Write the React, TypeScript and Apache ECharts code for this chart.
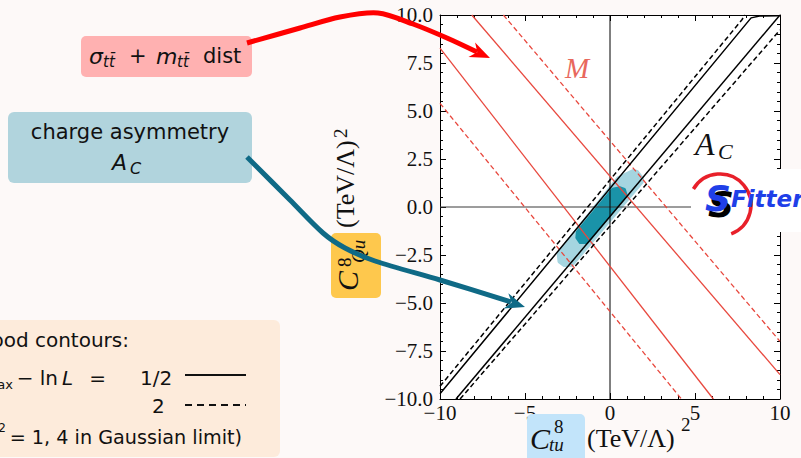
import React, { useEffect, useRef } from "react";
import * as echarts from "echarts";

// ---- data ----
const xTickValues = [-10, -5, 0, 5, 10];
const yTickValues = [-10, -7.5, -5, -2.5, 0, 2.5, 5, 7.5, 10];

// red (M) constraint lines
const redSolidA = [[-10, 8.27], [6.08, -10]];
const redSolidB = [[-8.13, 10], [10, -8.73]];
const redDashA = [[-10, 5.4], [4.2, -10]];
const redDashB = [[-6.27, 10], [10, -7.0]];

// black (A_C) contours
const blackSolidL = [[-10, -9.73], [8.3, 9.85], [8.8, 9.95], [9.9, 9.96]];
const blackSolidR = [[-9.06, -10], [10, 10]];
const blackDashL = [[-10, -9.34], [7.75, 9.74], [7.94, 10]];
const blackDashR = [[-8.82, -10], [10, 9.22]];

// combined allowed regions
const regionOuter = [
  [-3.05, -2.4], [-3.0, -2.85], [-2.7, -3.05], [-2.25, -3.05],
  [1.9, 1.3], [1.9, 1.5], [1.6, 1.85], [1.35, 1.9], [0.45, 1.5],
];
const regionInner = [
  [-1.92, -1.3], [-1.95, -1.6], [-1.75, -1.85], [-1.35, -1.85],
  [0.95, 0.6], [0.85, 0.92], [0.6, 1.0], [0.15, 0.92],
];

const zeroH = [[-10, 0], [10, 0]];
const zeroV = [[0, -10], [0, 10]];

const RED = "#e8483e";
const SERIF = "'Liberation Serif', 'DejaVu Serif', serif";
const SANS = "'DejaVu Sans', sans-serif";

const minus = (s: string) => s.replace("-", "\u2212");

function lineSeries(data: number[][], color: string, type: any, width: number, z: number) {
  return {
    type: "line",
    data,
    showSymbol: false,
    symbol: "none",
    silent: true,
    z,
    lineStyle: { color, type, width },
  };
}

function polySeries(pts: number[][], color: string, z: number) {
  return {
    type: "custom",
    coordinateSystem: "cartesian2d",
    data: [[0, 0]],
    silent: true,
    z,
    renderItem: (_p: any, api: any) => ({
      type: "polygon",
      shape: { points: pts.map((p) => api.coord(p)) },
      style: { fill: color, stroke: color, lineWidth: 3, lineJoin: "round" },
    }),
  };
}

function txt(x: number, y: number, text: string, size: number, opts: any = {}) {
  const { family = SANS, italic = false, color = "#111", align = "left", z = 60, weight = "normal" } = opts;
  return {
    type: "text",
    x,
    y,
    z,
    style: {
      text,
      fill: color,
      font: `${italic ? "italic " : ""}${weight} ${size}px ${family}`,
      align,
      verticalAlign: "middle",
    },
  };
}

export default function App() {
  const ref = useRef<HTMLDivElement>(null);
  useEffect(() => {
    if (!ref.current) return;
    const chart = echarts.init(ref.current, null, { renderer: "svg" });
    const axisCommon = {
      type: "value",
      min: -10,
      max: 10,
      axisLine: { show: true, onZero: false, lineStyle: { color: "#000", width: 1 } },
      axisTick: { show: true, inside: true, length: 6, lineStyle: { color: "#000" } },
      minorTick: { show: true, splitNumber: 5, length: 3, lineStyle: { color: "#000" } },
      splitLine: { show: false },
    };
    const option: any = {
      animation: false,
      backgroundColor: "#fdf9f8",
      grid: { left: 440, top: 15, width: 340, height: 384, show: true, backgroundColor: "#ffffff", borderWidth: 0 },
      xAxis: [
        {
          ...axisCommon,
          position: "bottom",
          interval: 5,
          axisLabel: {
            margin: 5,
            color: "#111",
            fontFamily: SERIF,
            fontSize: 21,
            lineHeight: 18,
            formatter: (v: number) => (xTickValues.includes(v) ? minus(String(v)) : ""),
          },
        },
        { ...axisCommon, position: "top", interval: 5, axisLabel: { show: false } },
      ],
      yAxis: [
        {
          ...axisCommon,
          position: "left",
          interval: 2.5,
          axisLabel: {
            margin: 7,
            color: "#111",
            fontFamily: SERIF,
            fontSize: 21,
            formatter: (v: number) => (yTickValues.includes(v) ? minus(v.toFixed(1)) : ""),
          },
        },
        { ...axisCommon, position: "right", interval: 2.5, axisLabel: { show: false } },
      ],
      series: [
        polySeries(regionOuter, "#a5d5e0", 1),
        polySeries(regionInner, "#1a93a8", 2),
        lineSeries(zeroH, "#3a3a3a", "solid", 1, 3),
        lineSeries(zeroV, "#000000", "solid", 1, 3),
        lineSeries(redSolidA, RED, "solid", 1.3, 4),
        lineSeries(redSolidB, RED, "solid", 1.3, 4),
        lineSeries(redDashA, RED, [5, 3], 1.3, 4),
        lineSeries(redDashB, RED, [5, 3], 1.3, 4),
        lineSeries(blackSolidL, "#000", "solid", 1.5, 5),
        lineSeries(blackSolidR, "#000", "solid", 1.5, 5),
        lineSeries(blackDashL, "#000", [5, 3], 1.5, 5),
        lineSeries(blackDashR, "#000", [5, 3], 1.5, 5),
      ],
      graphic: [
        // in-plot labels
        txt(577, 68, "M", 29, { family: SERIF, italic: true, color: "#e8685d", align: "center" }),
        txt(695, 144, "A", 32, { family: SERIF, italic: true, color: "#111" }),
        txt(718, 151, "C", 22, { family: SERIF, italic: true, color: "#111" }),

        // SFitter logo
        { type: "rect", z: 100, shape: { x: 691, y: 169, width: 110, height: 63 }, style: { fill: "#ffffff" } },
        {
          type: "arc",
          z: 101,
          shape: { cx: 720, cy: 205, r: 31, startAngle: 1.2, endAngle: -2.6, clockwise: false },
          style: { stroke: "#e8202a", lineWidth: 3.5, fill: "none" },
        },
        txt(708, 204, "S", 36, { italic: true, weight: "bold", color: "#000", z: 102 }),
        txt(705, 198, "S", 36, { italic: true, weight: "bold", color: "#1f3fe8", z: 103 }),
        txt(731, 199, "Fitter", 23, { italic: true, weight: "bold", color: "#1f3fe8", z: 103 }),

        // x axis label
        { type: "rect", z: 50, shape: { x: 527, y: 414, width: 58, height: 50, r: 5 }, style: { fill: "#c2e4fa" } },
        txt(530, 438, "C", 30, { family: SERIF, italic: true, color: "#111" }),
        txt(554, 426, "8", 19, { family: SERIF, color: "#111" }),
        txt(549, 444, "tu", 19, { family: SERIF, italic: true, color: "#111" }),
        txt(587, 438, "(TeV/\u039b)", 26, { family: SERIF, color: "#111" }),
        txt(681, 424, "2", 19, { family: SERIF, color: "#111" }),

        // y axis label (rotated)
        { type: "rect", z: 50, shape: { x: 331, y: 233, width: 50, height: 65, r: 5 }, style: { fill: "#fec84d" } },
        {
          type: "group",
          x: 357.7,
          y: 212,
          rotation: Math.PI / 2,
          z: 60,
          children: [
            txt(-79, -10, "C", 30, { family: SERIF, italic: true, color: "#111" }),
            txt(-55, -13, "8", 19, { family: SERIF, color: "#111" }),
            txt(-51, 1, "Qu", 19, { family: SERIF, italic: true, color: "#111" }),
            txt(-16, -12, "(TeV/\u039b)", 26, { family: SERIF, color: "#111" }),
            txt(74, -17, "2", 19, { family: SERIF, color: "#111" }),
          ],
        },

        // pink box
        { type: "rect", z: 50, shape: { x: 81, y: 36, width: 171, height: 41, r: 5 }, style: { fill: "#ffb1b1" } },
        txt(89, 56, "\u03c3", 22, { italic: true }),
        txt(103, 62, "tt\u0304", 15, { italic: true }),
        txt(129, 56, "+", 21, {}),
        txt(156, 56, "m", 22, { italic: true }),
        txt(177, 62, "tt\u0304", 15, { italic: true }),
        txt(203, 55.7, "dist", 21, {}),

        // blue box
        { type: "rect", z: 50, shape: { x: 8, y: 112, width: 244, height: 71, r: 6 }, style: { fill: "#b1d4dd" } },
        txt(130, 131.7, "charge asymmetry", 21, { align: "center" }),
        txt(112, 162, "A", 22, { italic: true }),
        txt(130, 168, "C", 16, { italic: true }),

        // likelihood legend box
        { type: "rect", z: 50, shape: { x: -20, y: 320, width: 300, height: 137, r: 6 }, style: { fill: "#fdebdb" } },
        txt(129, 340, "Likelihood contours:", 20, { align: "right" }),
        txt(-3, 378, "ln L", 20, { align: "right" }),
        txt(13, 384, "max", 13, { align: "right" }),
        txt(58, 378, "\u2212 ln", 20, { align: "right" }),
        txt(62, 378, "L", 20, { italic: true }),
        txt(106, 378, "=", 20, { align: "right" }),
        txt(140, 378, "1/2", 20, {}),
        { type: "line", z: 60, shape: { x1: 185, y1: 375, x2: 246, y2: 375 }, style: { stroke: "#111", lineWidth: 2 } },
        txt(152, 406, "2", 20, {}),
        {
          type: "line",
          z: 60,
          shape: { x1: 185, y1: 405, x2: 246, y2: 405 },
          style: { stroke: "#111", lineWidth: 2, lineDash: [7, 5] },
        },
        txt(-1, 437, "(\u0394\u03c7", 19, { align: "right" }),
        txt(6, 428, "2", 12, { align: "right" }),
        txt(242, 437, "= 1, 4 in Gaussian limit)", 19.2, { align: "right" }),

        // red arrow
        {
          type: "polyline",
          z: 110,
          shape: { points: [[247, 43], [300, 28], [340, 17], [378, 13], [413, 24], [447, 38], [477, 52]], smooth: 0.3 },
          style: { stroke: "#ff0000", lineWidth: 5, fill: "none" },
        },
        {
          type: "polygon",
          z: 111,
          shape: { points: [[490, 58], [475.1, 42.5], [477.3, 52.3], [468.5, 57.1]] },
          style: { fill: "#ff0000" },
        },

        // teal arrow
        {
          type: "polyline",
          z: 110,
          shape: { points: [[247, 157], [290, 200], [323, 233], [345, 248], [375, 261], [440, 280], [511, 302]], smooth: 0.3 },
          style: { stroke: "#0f6a86", lineWidth: 5, fill: "none" },
        },
        {
          type: "polygon",
          z: 111,
          shape: { points: [[525, 307], [508.3, 293.3], [511.7, 302.8], [503.5, 308.5]] },
          style: { fill: "#0f6a86" },
        },
      ],
    };
    chart.setOption(option);
    return () => chart.dispose();
  }, []);
  return (
    <div
      ref={ref}
      style={{ position: "fixed", left: 0, top: 0, width: 801, height: 458, background: "#fdf9f8" }}
    />
  );
}
